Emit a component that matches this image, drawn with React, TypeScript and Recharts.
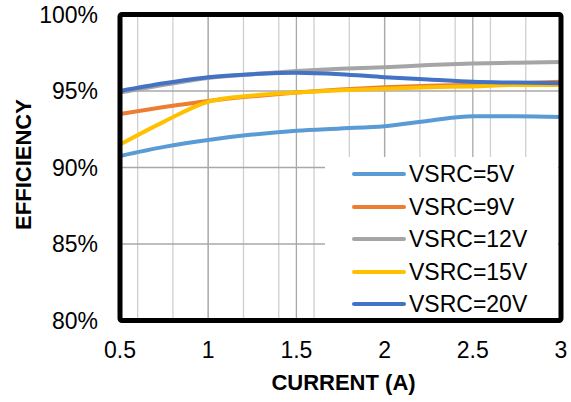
import React from 'react';
import {
  LineChart,
  Line,
  XAxis,
  YAxis,
  CartesianGrid,
  Legend,
} from 'recharts';

if (typeof document !== 'undefined' && document.body) {
  document.body.style.margin = '0';
}

const currents = [0.5, 0.75, 1, 1.25, 1.5, 1.75, 2, 2.25, 2.5, 2.75, 3];
const vsrc5V = [90.75, 91.35, 91.8, 92.15, 92.4, 92.55, 92.7, 93.05, 93.35, 93.35, 93.3];
const vsrc9V = [93.5, 93.95, 94.35, 94.65, 94.9, 95.1, 95.25, 95.35, 95.4, 95.5, 95.6];
const vsrc12V = [94.9, 95.4, 95.85, 96.1, 96.3, 96.45, 96.55, 96.7, 96.8, 96.85, 96.9];
const vsrc15V = [91.5, 93.0, 94.3, 94.7, 94.9, 95.05, 95.15, 95.25, 95.3, 95.4, 95.4];
const vsrc20V = [95.0, 95.5, 95.9, 96.1, 96.2, 96.1, 95.9, 95.75, 95.6, 95.55, 95.5];

const xTicks = [0.5, 1, 1.5, 2, 2.5, 3];
const xMinorTicks = [
  0.5, 0.6, 0.7, 0.8, 0.9, 1, 1.1, 1.2, 1.3, 1.4, 1.5, 1.6, 1.7, 1.8, 1.9, 2,
  2.1, 2.2, 2.3, 2.4, 2.5, 2.6, 2.7, 2.8, 2.9, 3,
];
const yTicks = [80, 85, 90, 95, 100];

const seriesNames = ['VSRC=5V', 'VSRC=9V', 'VSRC=12V', 'VSRC=15V', 'VSRC=20V'];
const seriesKeys = ['v5', 'v9', 'v12', 'v15', 'v20'];
const seriesColors = ['#5B9BD5', '#ED7D31', '#A5A5A5', '#FFC000', '#4472C4'];

const data = currents.map((c, i) => ({
  current: c,
  v5: vsrc5V[i],
  v9: vsrc9V[i],
  v12: vsrc12V[i],
  v15: vsrc15V[i],
  v20: vsrc20V[i],
}));

const FONT = '"Liberation Sans", Arial, sans-serif';

const CHART_W = 571;
const CHART_H = 402;
const MARGIN = { top: 14.5, right: 10, bottom: 0, left: 0 };
const Y_AXIS_W = 120;
const X_AXIS_H = 81.5;
const FRAME_W = 5;

const LegendBox = () => (
  <div
    style={{
      background: '#fff',
      width: 233,
      height: 161,
      position: 'relative',
      fontFamily: FONT,
    }}
  >
    {seriesNames.map((name, i) => (
      <div
        key={name}
        style={{
          position: 'absolute',
          left: 27,
          top: 1 + i * 32.5,
          height: 32,
          display: 'flex',
          alignItems: 'center',
          whiteSpace: 'nowrap',
        }}
      >
        <span
          style={{
            display: 'inline-block',
            width: 54,
            height: 4,
            borderRadius: 2,
            background: seriesColors[i],
            marginRight: 3,
          }}
        />
        <span style={{ fontSize: 23, color: '#000', lineHeight: '32px' }}>{name}</span>
      </div>
    ))}
  </div>
);

const YTitle = () => {
  const cx = 23;
  const cy = 164.5;
  return (
    <text
      x={cx}
      y={cy}
      transform={`rotate(-90, ${cx}, ${cy})`}
      textAnchor="middle"
      dominantBaseline="central"
      fontFamily={FONT}
      fontWeight="bold"
      fontSize={22}
      fill="#000"
    >
      EFFICIENCY
    </text>
  );
};

const XTitle = (props: any) => {
  const vb = props.viewBox || { x: 0, y: 0, width: 0 };
  return (
    <text
      x={vb.x + vb.width / 2 + 3}
      y={390}
      textAnchor="middle"
      fontFamily={FONT}
      fontWeight="bold"
      fontSize={22}
      fill="#000"
    >
      CURRENT (A)
    </text>
  );
};

export default function App() {
  const plotLeft = MARGIN.left + Y_AXIS_W;
  const plotTop = MARGIN.top;
  const plotW = CHART_W - plotLeft - MARGIN.right;
  const plotH = CHART_H - plotTop - MARGIN.bottom - X_AXIS_H;
  return (
    <div style={{ position: 'relative', width: CHART_W, height: CHART_H, background: '#fff' }}>
      <LineChart
        width={CHART_W}
        height={CHART_H}
        data={data}
        margin={MARGIN}
        style={{ fontFamily: FONT }}
      >
        <XAxis
          xAxisId="minor"
          dataKey="current"
          type="number"
          domain={[0.5, 3]}
          ticks={xMinorTicks}
          hide
        />
        <XAxis
          dataKey="current"
          type="number"
          domain={[0.5, 3]}
          ticks={xTicks}
          tickFormatter={(v: number) => String(v)}
          axisLine={false}
          tickLine={false}
          tickSize={0}
          tickMargin={21}
          height={X_AXIS_H}
          tick={{ fontSize: 23, fill: '#000', fontFamily: FONT }}
          label={<XTitle />}
          allowDataOverflow
        />
        <YAxis
          type="number"
          domain={[80, 100]}
          ticks={yTicks}
          tickFormatter={(v: number) => `${v}%`}
          axisLine={false}
          tickLine={false}
          tickSize={0}
          tickMargin={22}
          width={Y_AXIS_W}
          tick={{ fontSize: 23, fill: '#000', fontFamily: FONT }}
          label={<YTitle />}
          allowDataOverflow
        />
        <CartesianGrid
          xAxisId="minor"
          horizontal={false}
          vertical
          stroke="#cfcfcf"
          strokeWidth={1.3}
        />
        <CartesianGrid
          horizontal
          vertical
          stroke="#a8a8a8"
          strokeWidth={1.3}
        />
        {seriesKeys.map((k, i) => (
          <Line
            key={k}
            type="monotone"
            dataKey={k}
            name={seriesNames[i]}
            stroke={seriesColors[i]}
            strokeWidth={4}
            strokeLinecap="round"
            dot={false}
            activeDot={false}
            isAnimationActive={false}
          />
        ))}
        <Legend
          layout="vertical"
          align="center"
          verticalAlign="middle"
          content={<LegendBox />}
          wrapperStyle={{ position: 'absolute', left: 325, top: 157, width: 233, height: 161 }}
        />
      </LineChart>
      <svg
        width={CHART_W}
        height={CHART_H}
        style={{ position: 'absolute', left: 0, top: 0, pointerEvents: 'none', zIndex: 20 }}
      >
        <rect
          x={plotLeft}
          y={plotTop}
          width={plotW}
          height={plotH}
          rx={2}
          fill="none"
          stroke="#000000"
          strokeWidth={FRAME_W}
        />
      </svg>
    </div>
  );
}
